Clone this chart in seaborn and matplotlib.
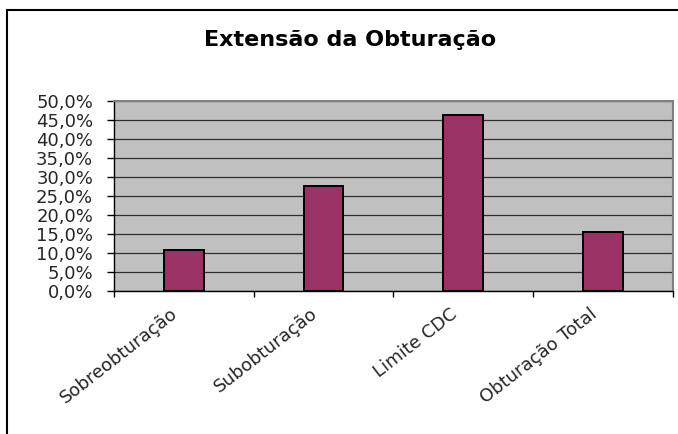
import matplotlib
matplotlib.use('Agg')
import matplotlib.pyplot as plt
from matplotlib.patches import Rectangle
from matplotlib.ticker import FixedLocator, FuncFormatter
from matplotlib.transforms import ScaledTranslation
import pandas as pd
import seaborn as sns

# Dados do gráfico
categorias = ['Sobreobturação', 'Subobturação', 'Limite CDC', 'Obturação Total']
valores = [0.108, 0.276, 0.462, 0.154]
titulo = 'Extensão da Obturação'

df = pd.DataFrame({'categoria': categorias, 'valor': valores})

sns.set_style('white')
plt.rcParams['font.family'] = ['DejaVu Sans']

fig = plt.figure(figsize=(6.78, 4.34), dpi=100)
fig.patch.set_facecolor('white')

# moldura da área do gráfico (cortada à direita e embaixo)
x0, y0 = 7 / 678, 1 - 10 / 434
fig.add_artist(Rectangle((x0, -0.2), 1.5, y0 + 0.2, transform=fig.transFigure,
                         fill=False, edgecolor='black', lw=1.5, clip_on=False))

ax = fig.add_axes([114 / 678, 1 - 291 / 434, (672.7 - 114) / 678, (291 - 101) / 434])
ax.set_facecolor('#C0C0C0')

sns.barplot(data=df, x='categoria', y='valor', color='#993366', saturation=1,
            width=0.286, edgecolor='black', linewidth=1.4, ax=ax, zorder=3)

ax.set_xlim(-0.5, len(categorias) - 0.5)
ax.set_ylim(0, 0.5)
ax.yaxis.set_major_locator(FixedLocator([i * 0.05 for i in range(11)]))
ax.yaxis.set_major_formatter(FuncFormatter(lambda v, p: f'{v * 100:.1f}%'.replace('.', ',')))
ax.grid(axis='y', color='#303030', lw=0.9)
ax.set_axisbelow(True)

# ticks nas divisões entre categorias
ax.xaxis.set_minor_locator(FixedLocator([i - 0.5 for i in range(len(categorias) + 1)]))
ax.tick_params(axis='x', which='minor', direction='out', length=4, width=1, color='black', bottom=True)
ax.tick_params(axis='x', which='major', length=0, pad=15)
ax.tick_params(axis='y', direction='out', length=5, width=1, color='black', pad=10, labelsize=13, left=True)

ax.set_xticks(range(len(categorias)))
ax.set_xticklabels(categorias, rotation=38, ha='right', va='center',
                   rotation_mode='anchor', fontsize=13)
desloc = ScaledTranslation(-8 / 100, 0, fig.dpi_scale_trans)
for rotulo in ax.get_xticklabels():
    rotulo.set_transform(rotulo.get_transform() + desloc)
ax.set_xlabel('')
ax.set_ylabel('')

for lado in ['left', 'bottom']:
    ax.spines[lado].set_color('black')
    ax.spines[lado].set_linewidth(1)
for lado in ['top', 'right']:
    ax.spines[lado].set_visible(True)
    ax.spines[lado].set_color('#808080')
    ax.spines[lado].set_linewidth(1.5)

fig.text(350 / 678, 1 - 46 / 434, titulo, ha='center', va='baseline',
         fontsize=16, fontweight='bold', color='black')

fig.savefig('out.png', dpi=100, facecolor='white')
